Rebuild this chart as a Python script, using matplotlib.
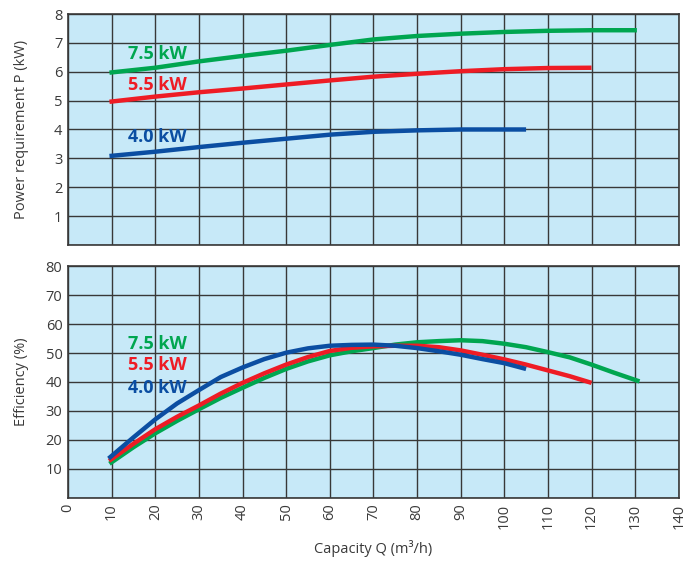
import matplotlib
matplotlib.use("Agg")
import matplotlib.pyplot as plt

plt.rcParams['font.family'] = ['Open Sans', 'DejaVu Sans']

# Power requirement (kW) vs capacity Q (m3/h)
q_p75 = [9.5, 20, 30, 40, 50, 60, 70, 80, 90, 100, 110, 120, 130.4]
p_75 = [5.97, 6.14, 6.36, 6.55, 6.73, 6.93, 7.12, 7.24, 7.32, 7.38, 7.42, 7.44, 7.44]
q_p55 = [9.5, 20, 30, 40, 50, 60, 70, 80, 90, 100, 110, 120]
p_55 = [4.96, 5.14, 5.29, 5.42, 5.56, 5.70, 5.83, 5.93, 6.02, 6.09, 6.13, 6.14]
q_p40 = [9.5, 20, 30, 40, 50, 60, 70, 80, 90, 100, 105]
p_40 = [3.08, 3.23, 3.39, 3.54, 3.68, 3.82, 3.92, 3.97, 4.0, 4.0, 4.0]

# Efficiency (%) vs capacity
q_e75 = [9.5, 15, 20, 25, 30, 35, 40, 45, 50, 55, 60, 65, 70, 75, 80, 85, 90,
         95, 100, 105, 110, 115, 120, 125, 131]
e_75 = [11.8, 17.5, 22.3, 26.6, 30.6, 34.5, 38.0, 41.4, 44.5, 47.1, 49.2, 50.6,
        51.7, 52.9, 53.7, 54.1, 54.4, 54.1, 53.2, 52.0, 50.3, 48.5, 46.0, 43.3, 40.2]
q_e55 = [9.4, 15, 20, 25, 30, 35, 40, 45, 50, 55, 60, 65, 70, 75, 80, 85, 90,
         95, 100, 105, 110, 115, 120]
e_55 = [12.8, 18.7, 23.7, 28.0, 31.9, 36.0, 39.7, 43.0, 46.0, 48.6, 50.7, 51.8,
        52.3, 52.5, 52.5, 52.0, 50.9, 49.4, 47.8, 46.0, 44.0, 42.0, 39.7]
q_e40 = [9.3, 15, 20, 25, 30, 35, 40, 45, 50, 55, 60, 65, 70, 75, 80, 85, 90,
         95, 100, 105]
e_40 = [13.6, 20.9, 27.1, 32.6, 37.2, 41.7, 45.0, 47.9, 50.1, 51.6, 52.5, 52.8,
        52.9, 52.5, 51.7, 50.6, 49.4, 47.9, 46.5, 44.5]

labels = ["7.5 kW", "5.5 kW", "4.0 kW"]
colors = ["#00A650", "#EE1C25", "#0B4EA2"]
label_y_power = [6.46, 5.36, 3.57]
label_y_eff = [51.5, 44.0, 36.3]
label_x = 13.8

x_ticks = list(range(0, 141, 10))
p_ticks = list(range(1, 9))
e_ticks = list(range(10, 81, 10))

bg = "#C7E9F8"
grid_c = "#383838"
text_c = "#3a3a3a"

fig = plt.figure(figsize=(6.87, 5.63), dpi=100)
ax1 = fig.add_axes([0.099, 0.565, 0.889, 0.410])
ax2 = fig.add_axes([0.099, 0.1155, 0.889, 0.412])

for ax in (ax1, ax2):
    ax.set_facecolor(bg)
    ax.set_xlim(0, 140)
    ax.set_xticks(x_ticks)
    ax.grid(True, color=grid_c, linewidth=1.0)
    ax.set_axisbelow(True)
    ax.tick_params(length=0, colors=text_c, labelsize=10.5, pad=4)
    for s in ax.spines.values():
        s.set_color(grid_c)
        s.set_linewidth(1.2)

ax1.set_ylim(0, 8)
ax1.set_yticks([0] + p_ticks)
ax1.set_yticklabels([""] + [str(t) for t in p_ticks])
ax1.set_xticklabels([])
ax1.set_ylabel("Power requirement P (kW)", color=text_c, fontsize=10.5)

for q, p, c in [(q_p75, p_75, colors[0]), (q_p55, p_55, colors[1]), (q_p40, p_40, colors[2])]:
    ax1.plot(q, p, color=c, linewidth=3.2, solid_capstyle='butt', solid_joinstyle='round')
for lab, c, y in zip(labels, colors, label_y_power):
    ax1.text(label_x, y, lab, color=c, fontsize=13, fontweight='bold', va='baseline', ha='left')

ax2.set_ylim(0, 80)
ax2.set_yticks([0] + e_ticks)
ax2.set_yticklabels([""] + [str(t) for t in e_ticks])
ax2.set_xticklabels([str(t) for t in x_ticks], rotation=90)
ax2.set_ylabel("Efficiency (%)", color=text_c, fontsize=10.5)
ax2.set_xlabel("Capacity Q (m³/h)", color=text_c, fontsize=10.5, labelpad=8)

for q, e, c in [(q_e75, e_75, colors[0]), (q_e55, e_55, colors[1]), (q_e40, e_40, colors[2])]:
    ax2.plot(q, e, color=c, linewidth=3.2, solid_capstyle='butt', solid_joinstyle='round')
for lab, c, y in zip(labels, colors, label_y_eff):
    ax2.text(label_x, y, lab, color=c, fontsize=13, fontweight='bold', va='baseline', ha='left')

ax1.yaxis.set_label_coords(-0.064, 0.5)
ax2.yaxis.set_label_coords(-0.064, 0.5)

fig.savefig("out.png", dpi=100, facecolor="white")
